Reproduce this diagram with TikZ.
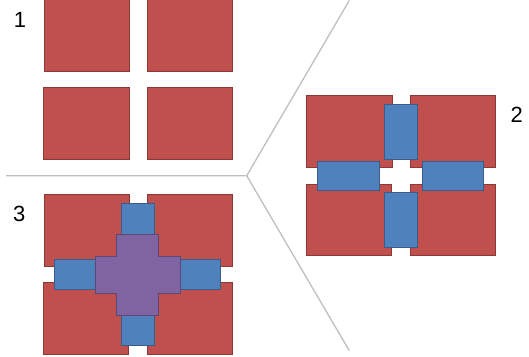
\documentclass[tikz,border=0pt]{standalone}
\usepackage{fontspec}
\setmainfont{Liberation Sans}
\definecolor{redf}{HTML}{C0504D}
\definecolor{redd}{HTML}{8C3836}
\definecolor{bluef}{HTML}{4F81BD}
\definecolor{blued}{HTML}{385D8A}
\definecolor{purf}{HTML}{8064A2}
\definecolor{purd}{HTML}{5C4776}
\definecolor{sep}{HTML}{BFBFBF}
\tikzset{
  redbox/.style={fill=redf,draw=redd,line width=0.9pt},
  bluebox/.style={fill=bluef,draw=blued,line width=0.9pt},
  purbox/.style={fill=purf,draw=purd,line width=0.9pt},
  sepline/.style={draw=sep,line width=1.3pt},
  numlabel/.style={font=\fontsize{22}{24}\selectfont,inner sep=0pt,text=black}
}
\begin{document}
\begin{tikzpicture}[x=1pt,y=-1pt]
\useasboundingbox (0,0) rectangle (529,356);
% separators
\coordinate (v) at (246.7,175.7);
\coordinate (l) at (6,175.7);
\coordinate (t) at (349.3,0.5);
\coordinate (b) at (349.3,350.7);
\draw[sepline] (l) -- (v) -- (t);
\draw[sepline] (v) -- (b);
% panel 1
\draw[redbox] (44.3,-1) rectangle (129.5,71);
\draw[redbox] (147.7,-1) rectangle (232.7,71);
\draw[redbox] (43.5,87.3) rectangle (129,159.3);
\draw[redbox] (147.7,87.3) rectangle (232.7,159.3);
\node[numlabel] (n1) at (20,20) {1};
% panel 2
\draw[redbox] (306,95.7) rectangle (392,167.3);
\draw[redbox] (410,95.7) rectangle (495,167.3);
\draw[redbox] (306,184) rectangle (391,255.3);
\draw[redbox] (410,184) rectangle (495,255.3);
\draw[bluebox] (384.7,104.3) rectangle (417.3,159.3);
\draw[bluebox] (317.7,161) rectangle (379.3,190.7);
\draw[bluebox] (422,161) rectangle (483.3,190.7);
\draw[bluebox] (384.7,192.3) rectangle (417.3,247);
\node[numlabel] (n2) at (516.7,115) {2};
% panel 3
\draw[redbox] (44.3,194.3) rectangle (129,266);
\draw[redbox] (147.3,194.3) rectangle (232.3,266);
\draw[redbox] (43.5,282.7) rectangle (128.3,354);
\draw[redbox] (147.3,282.7) rectangle (232.3,354);
\draw[bluebox] (121,203) rectangle (154.3,240);
\draw[bluebox] (54.3,259.3) rectangle (100,289);
\draw[bluebox] (175,259.3) rectangle (220,289);
\draw[bluebox] (121,310) rectangle (154.3,345.7);
\draw[purbox] (116.7,234) -- (158.3,234) -- (158.3,256) -- (180.7,256) -- (180.7,293)
  -- (158.3,293) -- (158.3,315.3) -- (116.7,315.3) -- (116.7,293) -- (95,293)
  -- (95,256) -- (116.7,256) -- cycle;
\node[numlabel] (n3) at (19.3,214.3) {3};
\end{tikzpicture}
\end{document}
